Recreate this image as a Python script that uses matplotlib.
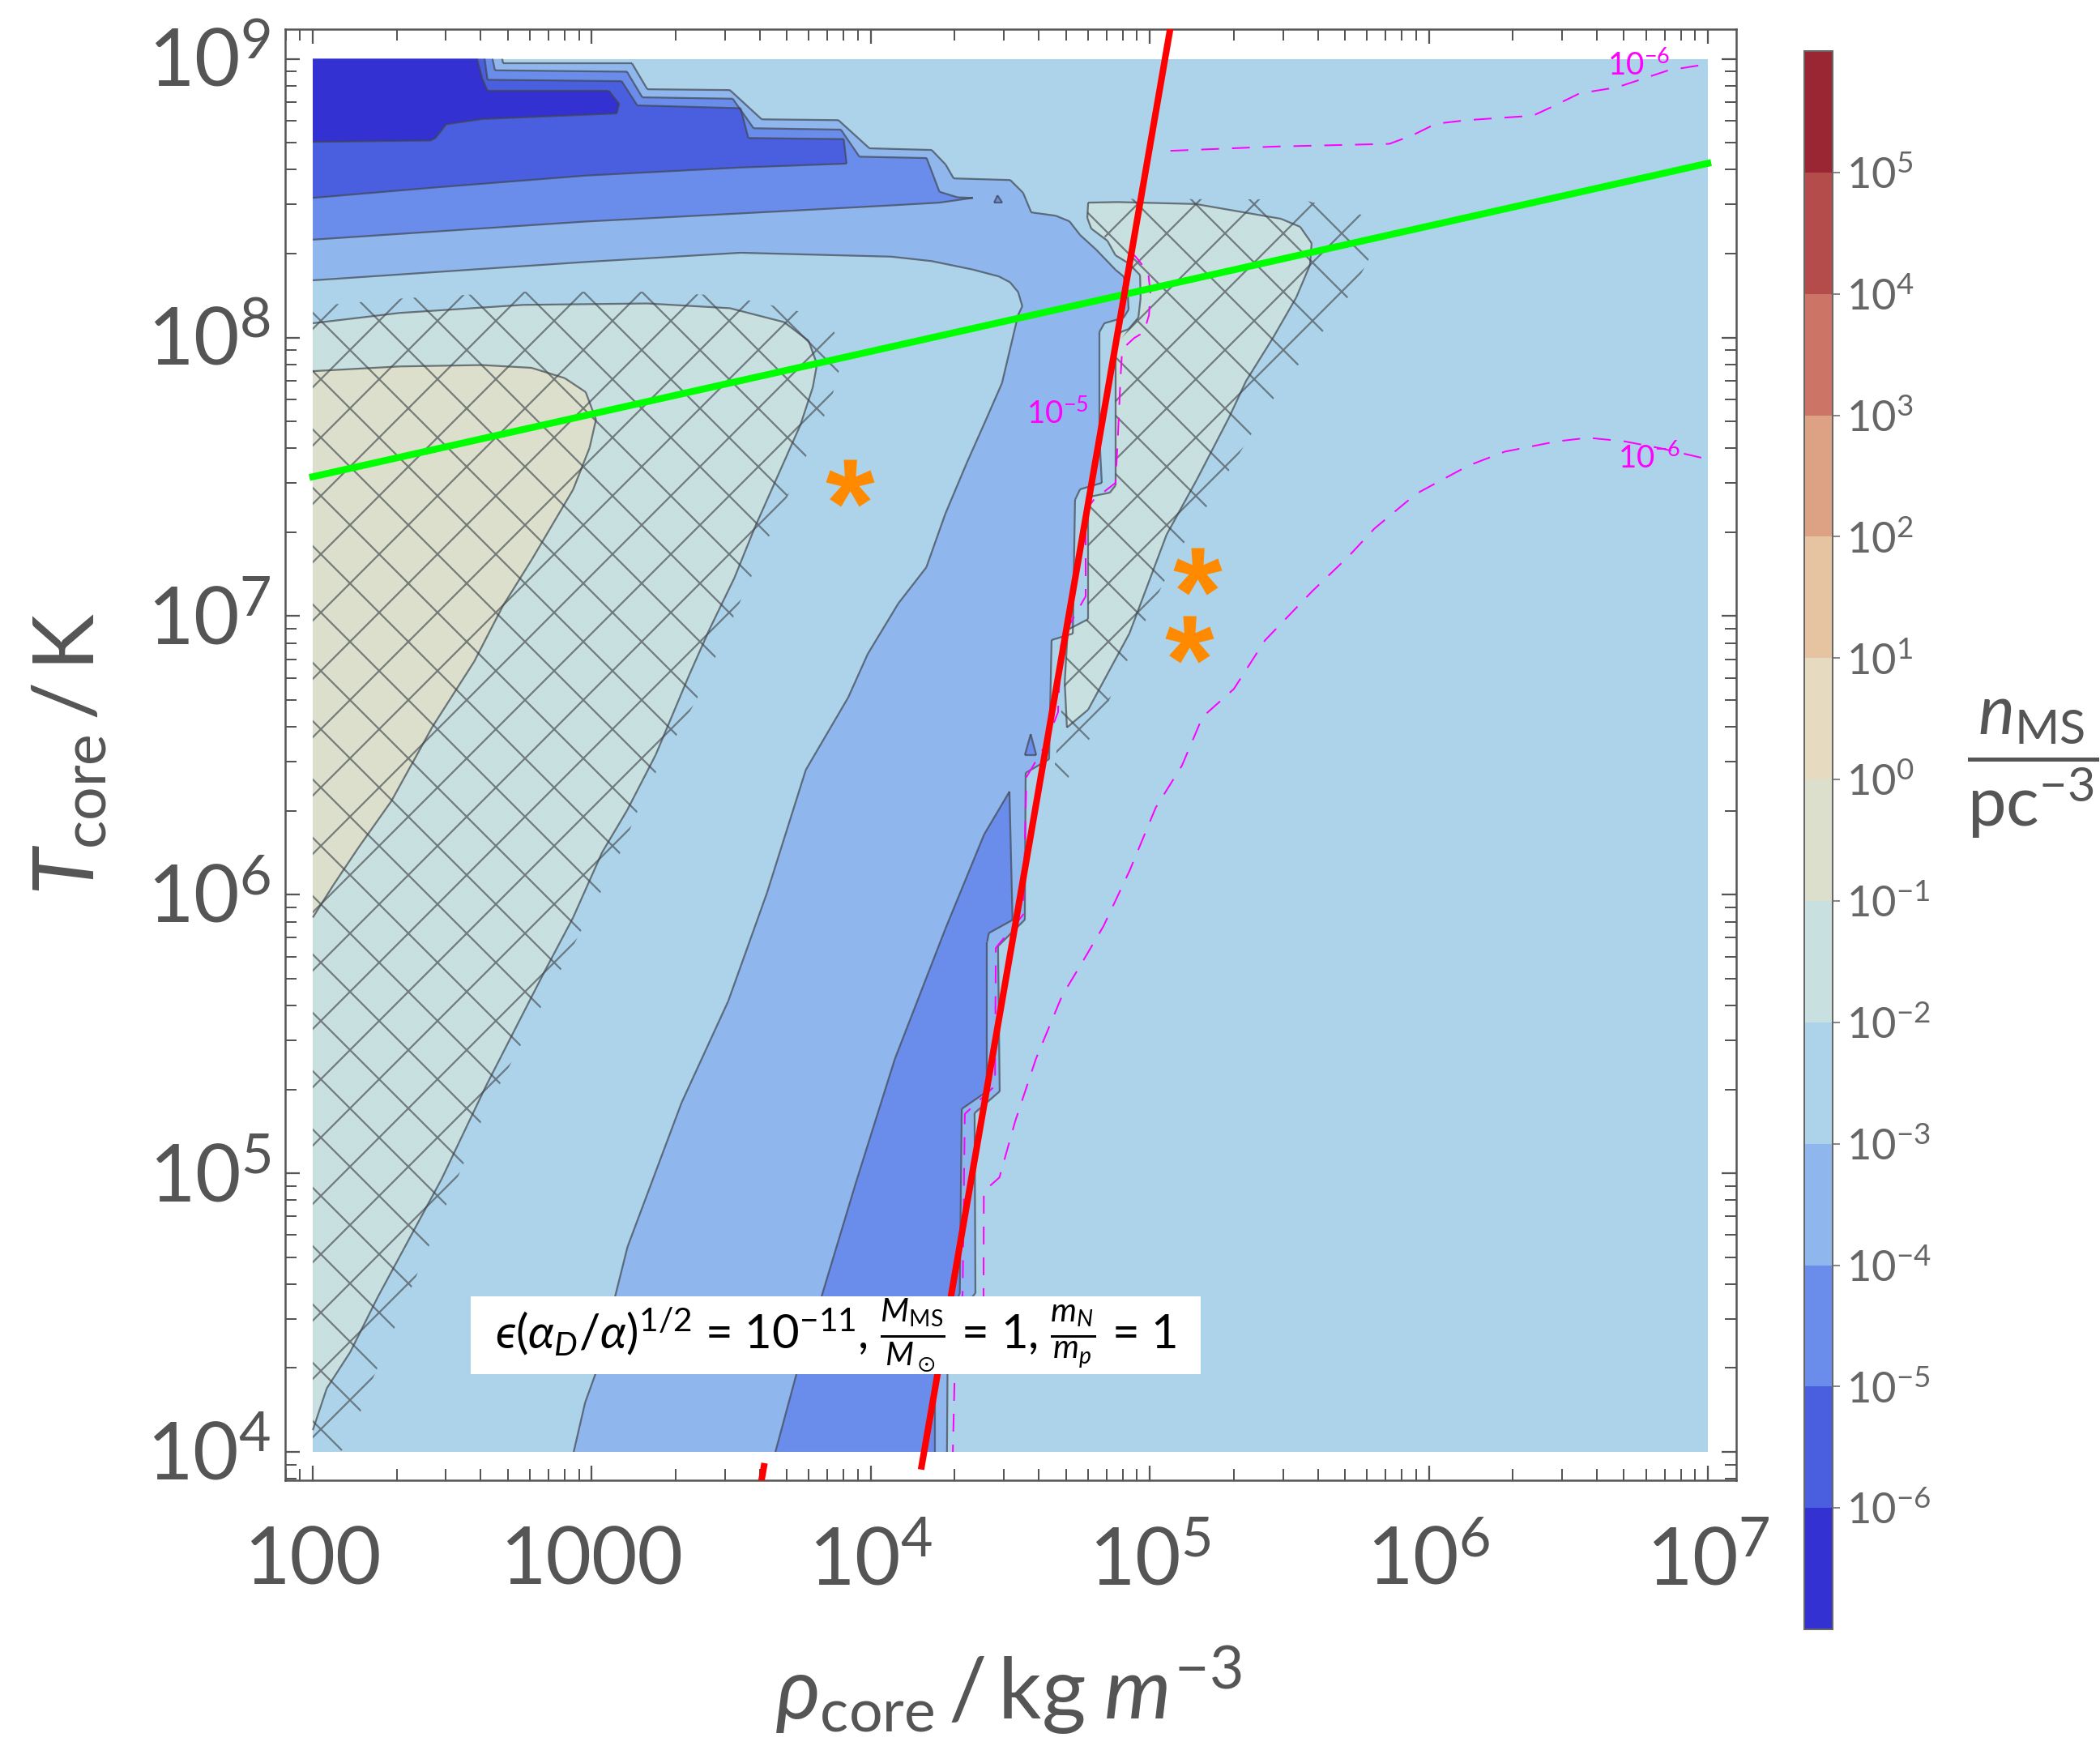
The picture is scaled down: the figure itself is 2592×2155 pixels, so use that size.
import numpy as np
import matplotlib
matplotlib.use("Agg")
import matplotlib.pyplot as plt
from matplotlib.patches import Polygon, Rectangle
from matplotlib.collections import LineCollection
from matplotlib.colors import ListedColormap, BoundaryNorm
from matplotlib.textpath import TextPath
from matplotlib.path import Path
from matplotlib.font_manager import FontProperties
from matplotlib import transforms
import matplotlib.colorbar as mcolorbar

DPI = 432
f = 360 / DPI   # sizes below were tuned in points at 360 dpi

plt.rcParams['font.family'] = ['Lato', 'DejaVu Sans']
plt.rcParams['mathtext.fontset'] = 'custom'
plt.rcParams['mathtext.rm'] = 'Lato'
plt.rcParams['mathtext.it'] = 'Lato:italic'
plt.rcParams['mathtext.bf'] = 'Lato:bold'
plt.rcParams['mathtext.fallback'] = 'stixsans'
plt.rcParams['hatch.linewidth'] = 0.45 * f

# ---- data (all positions are log10 rho [kg m^-3], log10 T [K]) ----
rho_range = [2, 7]
T_range = [4, 9]

# decade levels of n_MS / pc^-3 and their colours (bottom -> top)
level_exp = list(range(-7, 7))
level_colors = ['#3331d1', '#4a5fe0', '#6a8deb', '#8fb7ee', '#acd3ea', '#c8e0df',
                '#dbdfcb', '#e6dbc0', '#e6c4a2', '#dda283', '#cc7566', '#b54c4c', '#9a2533']

bg_lrho = [2, 7, 7, 2]
bg_lT = [4, 4, 9, 9]

band4_lrho = [2.679, 2.682, 3.144, 3.199, 3.495, 3.609, 3.884, 3.995, 4.218, 4.268,
              4.297, 4.500, 4.546, 4.575, 4.663, 4.712, 4.750, 4.808, 4.877, 4.906,
              4.921, 4.924, 4.906, 4.837, 4.819, 4.819, 4.828, 4.750, 4.732, 4.724,
              4.648, 4.639, 4.555, 4.552, 4.456, 4.462, 4.372, 4.375, 4.276, 4.273,
              2.935, 2.976, 3.016, 3.128, 3.322, 3.489, 3.628, 3.767, 3.919, 3.989,
              4.099, 4.199, 4.267, 4.344, 4.412, 4.470, 4.499, 4.528, 4.543, 4.528,
              4.499, 4.459, 4.364, 4.218, 4.073, 3.533, 2.978, 2.0, 2.0]
band4_lT = [9.0, 8.984, 8.984, 8.891, 8.888, 8.783, 8.780, 8.679, 8.673, 8.621,
            8.571, 8.565, 8.519, 8.449, 8.437, 8.417, 8.368, 8.315, 8.243, 8.219,
            8.161, 8.100, 8.071, 8.051, 8.019, 7.652, 7.478, 7.455, 7.417, 6.937,
            6.914, 6.486, 6.437, 5.910, 5.815, 5.294, 5.216, 4.570, 4.442, 4.0,
            4.0, 4.177, 4.288, 4.736, 5.254, 5.618, 6.007, 6.448, 6.708, 6.864,
            7.046, 7.175, 7.367, 7.550, 7.703, 7.836, 7.958, 8.081, 8.112, 8.163,
            8.198, 8.219, 8.244, 8.274, 8.290, 8.304, 8.271, 8.205, 9.0]

top5_lrho = [2.0, 2.644, 2.653, 3.126, 3.181, 3.505, 3.580, 3.893, 3.959, 4.200,
             4.246, 4.311, 4.366, 4.247, 4.073, 3.718, 2.978, 2.0]
top5_lT = [9.0, 9.0, 8.959, 8.954, 8.862, 8.857, 8.751, 8.746, 8.649, 8.644,
           8.523, 8.503, 8.501, 8.484, 8.474, 8.455, 8.416, 8.351]

sliver5_lrho = [3.658, 3.733, 3.822, 3.947, 4.086, 4.267, 4.406, 4.497, 4.508, 4.423,
                4.417, 4.417, 4.326, 4.319, 4.262, 4.229, 4.229]
sliver5_lT = [4.0, 4.278, 4.553, 4.968, 5.410, 5.877, 6.216, 6.370, 5.909, 5.862,
              5.830, 5.294, 5.231, 4.569, 4.442, 4.270, 4.0]

isle5a_lrho = [4.442, 4.454, 4.471]
isle5a_lT = [8.484, 8.510, 8.484]
isle5b_lrho = [4.552, 4.573, 4.593]
isle5b_lT = [6.501, 6.576, 6.501]

top6_lrho = [2.0, 2.616, 2.626, 3.107, 3.163, 3.533, 3.561, 3.903, 3.913, 3.533, 2.978, 2.422, 2.0]
top6_lT = [9.0, 9.0, 8.925, 8.920, 8.833, 8.823, 8.716, 8.712, 8.624, 8.610, 8.581, 8.537, 8.501]

top7_lrho = [2.0, 2.589, 2.607, 2.626, 3.061, 3.098, 3.089, 2.607, 2.478, 2.440, 2.422, 2.0]
top7_lT = [9.0, 9.0, 8.930, 8.886, 8.886, 8.838, 8.804, 8.784, 8.765, 8.716, 8.707, 8.702]

left2_lrho = [2.0, 2.311, 2.755, 3.199, 3.495, 3.689, 3.777, 3.807, 3.792, 3.748,
              3.689, 3.585, 3.511, 3.422, 3.348, 3.229, 3.126, 3.037, 2.933, 2.829,
              2.621, 2.462, 2.234, 2.134, 2.050, 2.0]
left2_lT = [8.051, 8.088, 8.117, 8.122, 8.105, 8.055, 7.988, 7.904, 7.821, 7.687,
            7.554, 7.320, 7.137, 6.953, 6.786, 6.502, 6.302, 6.152, 5.918, 5.721,
            5.314, 4.980, 4.558, 4.358, 4.228, 4.078]

left1_lrho = [2.0, 2.311, 2.607, 2.784, 2.903, 2.978, 3.015, 2.992, 2.933, 2.874,
              2.785, 2.681, 2.578, 2.429, 2.355, 2.281, 2.163, 2.074, 2.0]
left1_lT = [7.879, 7.896, 7.901, 7.891, 7.854, 7.804, 7.705, 7.604, 7.454, 7.354,
            7.203, 7.036, 6.836, 6.603, 6.469, 6.335, 6.168, 6.035, 5.918]

right2_lrho = [4.779, 4.886, 5.164, 5.470, 5.539, 5.580, 5.574, 5.525, 5.441, 5.345,
               5.284, 5.168, 5.060, 4.927, 4.779, 4.703, 4.695, 4.706, 4.779, 4.779,
               4.857, 4.877, 4.877, 4.895, 4.924, 4.959, 4.967, 4.965, 4.924, 4.877,
               4.848, 4.790, 4.776]
right2_lT = [8.484, 8.486, 8.479, 8.426, 8.397, 8.338, 8.260, 8.144, 7.998, 7.844,
             7.713, 7.489, 7.292, 6.938, 6.664, 6.600, 6.762, 6.951, 6.989, 7.427,
             7.443, 7.469, 7.969, 8.019, 8.030, 8.071, 8.142, 8.224, 8.266, 8.295,
             8.347, 8.391, 8.429]

hatchL_lrho = [2.0, 2.331, 2.755, 3.202, 3.492, 3.754, 3.870, 3.887, 3.858, 3.806,
               3.643, 3.495, 3.376, 3.199, 3.095, 2.918, 2.621, 2.299, 2.200, 2.134, 2.099, 2.0]
hatchL_lT = [8.112, 8.141, 8.164, 8.164, 8.149, 8.091, 8.019, 7.885, 7.777, 7.655,
             7.303, 6.969, 6.701, 6.384, 6.134, 5.785, 5.227, 4.459, 4.227, 4.038, 4.0, 4.0]

hatchR_lrho = [4.779, 5.545, 5.815, 5.815, 5.722, 5.435, 5.235, 5.101, 4.991, 4.828,
               4.700, 4.654, 4.695, 4.706, 4.779, 4.779, 4.877, 4.877, 4.924, 4.959,
               4.967, 4.924, 4.776]
hatchR_lT = [8.498, 8.495, 8.426, 8.338, 8.161, 7.769, 7.443, 7.228, 6.998, 6.640,
             6.405, 6.419, 6.762, 6.951, 6.989, 7.427, 7.469, 7.969, 8.030, 8.071,
             8.142, 8.266, 8.429]

# magenta dashed contours
c5_lrho = [4.930, 4.950, 4.994, 5.002, 4.997, 4.979, 4.944, 4.901, 4.895, 4.886,
           4.877, 4.799, 4.770, 4.770, 4.683, 4.671, 4.625, 4.558, 4.546, 4.448,
           4.445, 4.337, 4.329, 4.300, 4.294]
c5_lT = [8.309, 8.289, 8.234, 8.161, 8.080, 8.019, 7.998, 7.958, 7.856, 7.652,
         7.478, 7.417, 7.379, 7.071, 6.917, 6.655, 6.536, 6.422, 5.928, 5.809,
         5.314, 5.213, 4.570, 4.253, 4.0]
c6up_lrho = [5.074, 5.442, 5.859, 5.942, 6.025, 6.136, 6.373, 6.442, 6.540, 6.675, 6.859, 6.991]
c6up_lT = [8.670, 8.685, 8.695, 8.726, 8.767, 8.780, 8.796, 8.828, 8.876, 8.898, 8.959, 8.980]
c6lo_lrho = [4.404, 4.404, 4.405, 4.461, 4.517, 4.592, 4.685, 4.760, 4.834, 4.928,
             5.021, 5.115, 5.189, 5.301, 5.413, 5.582, 5.712, 5.805, 5.955, 6.142,
             6.272, 6.459, 6.571, 6.702, 6.832, 6.991]
c6lo_lT = [4.413, 4.569, 4.935, 4.985, 5.185, 5.411, 5.636, 5.761, 5.887, 6.087,
           6.312, 6.463, 6.638, 6.738, 6.913, 7.089, 7.214, 7.314, 7.439, 7.540,
           7.590, 7.627, 7.640, 7.627, 7.602, 7.565]
clabel_lrho = [4.668, 6.753, 6.791]
clabel_lT = [7.728, 8.978, 7.568]
clabel_txt = [r'$10^{-5}$', r'$10^{-6}$', r'$10^{-6}$']

green_lrho = [2.0, 7.0]
green_lT = [7.5, 8.625]
red_lrho = [4.182, 5.089]
red_lT = [3.948, 9.2]
red2_lrho = [3.600, 3.617]
red2_lT = [3.85, 3.948]

star_lrho = [3.925, 5.171, 5.142]
star_lT = [7.478, 7.161, 6.917]

xtick_exp = [2, 3, 4, 5, 6, 7]
xtick_lab = ['100', '1000', r'$10^{4}$', r'$10^{5}$', r'$10^{6}$', r'$10^{7}$']
ytick_exp = [4, 5, 6, 7, 8, 9]
ytick_lab = [r'$10^{%d}$' % e for e in ytick_exp]

gray = '#555555'

fig = plt.figure(figsize=(2592 / DPI, 2155 / DPI), dpi=DPI)
ax = fig.add_axes([0.1358, 0.1522, 0.691, 0.831])
ax.set_xscale('log')
ax.set_yscale('log')
ax.set_xlim(10 ** 1.901, 10 ** 7.102)
ax.set_ylim(10 ** 3.898, 10 ** 9.106)


def pts(lx, ly):
    return np.column_stack([10.0 ** np.array(lx), 10.0 ** np.array(ly)])


def inner_edges(lx, ly):
    segs = []
    n = len(lx)
    for i in range(n):
        j = (i + 1) % n
        if lx[i] == lx[j] and lx[i] in rho_range:
            continue
        if ly[i] == ly[j] and ly[i] in T_range:
            continue
        segs.append([(10.0 ** lx[i], 10.0 ** ly[i]), (10.0 ** lx[j], 10.0 ** ly[j])])
    return segs


regions = [(bg_lrho, bg_lT, 4), (band4_lrho, band4_lT, 3),
           (top5_lrho, top5_lT, 2), (sliver5_lrho, sliver5_lT, 2),
           (isle5a_lrho, isle5a_lT, 2), (isle5b_lrho, isle5b_lT, 2),
           (top6_lrho, top6_lT, 1), (top7_lrho, top7_lT, 0),
           (left2_lrho, left2_lT, 5), (left1_lrho, left1_lT, 6),
           (right2_lrho, right2_lT, 5)]

edges = []
for k, (lx, ly, lev) in enumerate(regions):
    ax.add_patch(Polygon(pts(lx, ly), closed=True, facecolor=level_colors[lev],
                         edgecolor='none', lw=0, zorder=1 + k * 0.01))
    edges += inner_edges(lx, ly)

for lx, ly in [(hatchL_lrho, hatchL_lT), (hatchR_lrho, hatchR_lT)]:
    ax.add_patch(Polygon(pts(lx, ly), closed=True, fill=False, hatch='xx',
                         edgecolor=(0.3, 0.33, 0.35, 0.7), lw=0, zorder=2))

ax.add_collection(LineCollection(edges, colors=[(0.25, 0.27, 0.3, 0.7)],
                                 linewidths=0.45 * f, zorder=3))

for lx, ly in [(c5_lrho, c5_lT), (c6up_lrho, c6up_lT), (c6lo_lrho, c6lo_lT)]:
    ax.plot(10.0 ** np.array(lx), 10.0 ** np.array(ly), color='#ff00ff', lw=0.4 * f,
            dashes=(11, 8), zorder=4)
for lx, ly, s in zip(clabel_lrho, clabel_lT, clabel_txt):
    ax.text(10 ** lx, 10 ** ly, s, color='#ff00ff', fontsize=7.7 * f, ha='center',
            va='center', zorder=4)

ax.plot(10.0 ** np.array(green_lrho), 10.0 ** np.array(green_lT), color='#00ff00',
        lw=1.7 * f, zorder=5)
ax.plot(10.0 ** np.array(red_lrho), 10.0 ** np.array(red_lT), color='#ff0000',
        lw=1.6 * f, zorder=6)
ax.plot(10.0 ** np.array(red2_lrho), 10.0 ** np.array(red2_lT), color='#ff0000',
        lw=1.6 * f, zorder=6)

# asterisk marker
tp = TextPath((0, 0), '*', prop=FontProperties(family='Liberation Sans', weight='bold'))
ext = tp.get_extents()
ctr = np.array([(ext.x0 + ext.x1) / 2, (ext.y0 + ext.y1) / 2])
v = tp.vertices.copy()
v[tp.codes == Path.CLOSEPOLY] = ctr
star = Path(v - ctr, tp.codes)
ax.plot(10.0 ** np.array(star_lrho), 10.0 ** np.array(star_lT), ls='none', marker=star,
        ms=12 * f, color='#ff8a00', mec='none', zorder=7)

# parameter box
ax.add_patch(Rectangle((0.1279, 0.0731), 0.5031, 0.0536, transform=ax.transAxes,
                       facecolor='white', edgecolor='none', zorder=8))
ax.text(0.3794, 0.0999,
        '$\u03f5(\\alpha_D/\\alpha)^{1/2}$ = $10^{-11}$, $\\frac{M_{\\rm MS}}{M_\\odot}$ = 1, $\\frac{m_N}{m_p}$ = 1',
        transform=ax.transAxes, ha='center', va='center', fontsize=11.6 * f, color='black',
        zorder=9)

# axes styling
for sp in ax.spines.values():
    sp.set_color(gray)
    sp.set_linewidth(0.5 * f)
ax.tick_params(which='both', direction='in', top=True, right=True, labelbottom=False,
               labelleft=False, color=gray)
ax.tick_params(which='major', length=3.5 * f, width=0.45 * f)
ax.tick_params(which='minor', length=2.8 * f, width=0.4 * f)

xtr = transforms.offset_copy(transforms.blended_transform_factory(ax.transData, ax.transAxes),
                             fig=fig, y=-25.6 * f, units='points')
for e, s in zip(xtick_exp, xtick_lab):
    ax.text(10.0 ** e, 0, s, transform=xtr, ha='center', va='baseline', fontsize=19.5 * f,
            color=gray, clip_on=False)
ytr = transforms.offset_copy(transforms.blended_transform_factory(ax.transAxes, ax.transData),
                             fig=fig, x=-3.5 * f, y=-6.8 * f, units='points')
for e, s in zip(ytick_exp, ytick_lab):
    ax.text(0, 10.0 ** e, s, transform=ytr, ha='right', va='baseline', fontsize=19.5 * f,
            color=gray, clip_on=False)

fig.text(0.4803, 0.032, r'$\rho_{\rm core}\,/\,{\rm kg}\;m^{-3}$', ha='center', va='center',
         fontsize=21 * f, color=gray)
fig.text(0.0332, 0.568, r'$T_{\rm core}\,/\,{\rm K}$', ha='center', va='center',
         rotation=90, fontsize=21 * f, color=gray)

# colour bar
cax = fig.add_axes([0.8592, 0.0668, 0.0135, 0.9039])
bounds = [10.0 ** e for e in level_exp]
cmap = ListedColormap(level_colors)
cb = mcolorbar.ColorbarBase(cax, cmap=cmap, norm=BoundaryNorm(bounds, cmap.N),
                            boundaries=bounds, spacing='uniform', orientation='vertical')
cb.set_ticks(bounds[1:-1])
cb.set_ticklabels([r'$10^{%d}$' % e for e in level_exp[1:-1]])
cax.tick_params(direction='out', length=1.8 * f, width=0.4 * f, color='#888888',
                labelsize=10.5 * f, labelcolor='#666666', pad=1.6 * f)
cax.minorticks_off()
cb.outline.set_edgecolor('#666666')
cb.outline.set_linewidth(0.4 * f)
fig.text(0.968, 0.56, r'$\dfrac{n_{\rm MS}}{{\rm pc}^{-3}}$', ha='center', va='center',
         fontsize=17 * f, color=gray)

fig.savefig('out.png', dpi=DPI)
